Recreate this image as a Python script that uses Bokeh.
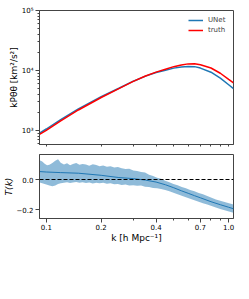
from bokeh.plotting import figure
from bokeh.models import FixedTicker, Range1d, Legend, LegendItem, Span
from bokeh.layouts import column
from bokeh.embed import file_html
from bokeh.resources import INLINE

# ---- data ----
k = [0.0918, 0.1, 0.12, 0.15, 0.2, 0.25, 0.3, 0.35, 0.4, 0.45, 0.5, 0.55,
     0.6, 0.65, 0.7, 0.8, 0.9, 1.0, 1.063]
truth = [860, 1010, 1450, 2200, 3550, 5000, 6600, 8100, 9400, 10500, 11600,
         12400, 12900, 13000, 12500, 11000, 9000, 7100, 6200]
unet = [906, 1060, 1520, 2290, 3650, 5070, 6640, 8070, 9240, 10130, 10960,
        11470, 11710, 11600, 10980, 9370, 7490, 5790, 4990]
t_mean = [0.053, 0.050, 0.046, 0.042, 0.028, 0.013, 0.006, -0.004, -0.017,
          -0.035, -0.055, -0.075, -0.092, -0.108, -0.122, -0.148, -0.168,
          -0.185, -0.195]

k_band = [0.092, 0.095, 0.098, 0.101, 0.104, 0.108, 0.112, 0.116, 0.120, 0.125,
          0.130, 0.135, 0.140, 0.146, 0.152, 0.158, 0.165, 0.172, 0.180, 0.188,
          0.196, 0.205, 0.215, 0.225, 0.236, 0.247, 0.259, 0.272, 0.285, 0.300,
          0.315, 0.331, 0.348, 0.366, 0.385, 0.405, 0.426, 0.449, 0.473, 0.498,
          0.525, 0.553, 0.583, 0.615, 0.649, 0.685, 0.723, 0.763, 0.806, 0.851,
          0.899, 0.950, 1.004, 1.063]
t_upper = [0.128, 0.120, 0.105, 0.095, 0.098, 0.110, 0.125, 0.135, 0.112, 0.100,
           0.108, 0.095, 0.103, 0.110, 0.098, 0.104, 0.100, 0.092, 0.101, 0.096,
           0.088, 0.094, 0.085, 0.089, 0.080, 0.084, 0.075, 0.070, 0.072, 0.060,
           0.056, 0.050, 0.046, 0.032, 0.024, 0.012, 0.005, -0.008, -0.018, -0.030,
           -0.038, -0.050, -0.058, -0.070, -0.078, -0.090, -0.099, -0.110, -0.121,
           -0.133, -0.141, -0.150, -0.158, -0.166]
t_lower = [-0.020, -0.025, -0.030, -0.035, -0.040, -0.045, -0.040, -0.030, -0.025,
           -0.022, -0.018, -0.024, -0.020, -0.016, -0.022, -0.018, -0.024, -0.020,
           -0.026, -0.022, -0.025, -0.021, -0.028, -0.025, -0.032, -0.030, -0.036,
           -0.033, -0.040, -0.038, -0.042, -0.040, -0.048, -0.050, -0.056, -0.058,
           -0.064, -0.070, -0.078, -0.088, -0.098, -0.108, -0.118, -0.128, -0.138,
           -0.148, -0.158, -0.166, -0.176, -0.186, -0.196, -0.205, -0.214, -0.222]

x_ticks_labeled = [0.1, 0.2, 0.4, 0.7, 1.0]
x_minor = [0.2, 0.3, 0.4, 0.5, 0.6, 0.7, 0.8, 0.9]
x_all = [0.1, 0.2, 0.3, 0.4, 0.5, 0.6, 0.7, 0.8, 0.9, 1.0]

FONT = "DejaVu Sans"
BLUE = "#1f77b4"
FRAME = "#444444"


def style_axes(p):
    for ax in p.axis:
        ax.axis_line_color = FRAME
        ax.major_tick_line_color = FRAME
        ax.minor_tick_line_color = FRAME
        ax.major_tick_out = 4
        ax.major_tick_in = 0
        ax.minor_tick_out = 2
        ax.minor_tick_in = 0
        ax.major_label_text_font = FONT
        ax.major_label_text_font_size = "7px"
        ax.major_label_text_color = "black"
        ax.axis_label_text_font = FONT
        ax.axis_label_text_font_size = "9px"
        ax.axis_label_text_font_style = "normal"
        ax.axis_label_text_color = "black"
    p.xgrid.visible = False
    p.ygrid.visible = False
    p.outline_line_color = FRAME
    p.outline_line_width = 1


x_range = Range1d(0.0918, 1.063)

p1 = figure(width=235, height=150, x_axis_type="log", y_axis_type="log",
            x_range=x_range, y_range=Range1d(585, 1e5),
            output_backend="svg", toolbar_location=None,
            min_border_left=33, min_border_right=2, min_border_top=10,
            min_border_bottom=6)
r_unet = p1.line(k, unet, line_color=BLUE, line_width=1.5)
r_truth = p1.line(k, truth, line_color="red", line_width=1.5)
style_axes(p1)
p1.xaxis.ticker = FixedTicker(ticks=[], minor_ticks=x_all)
p1.xaxis.major_label_standoff = 0
p1.yaxis.ticker = FixedTicker(ticks=[1e3, 1e4, 1e5],
                              minor_ticks=[a * b for b in (100, 1000, 10000)
                                           for a in range(2, 10)])
p1.yaxis.major_label_overrides = {1000: "10³", 10000: "10⁴", 100000: "10⁵"}
p1.yaxis.axis_label = "kPθθ [km²/s²]"
p1.yaxis.axis_label_standoff = 0
p1.yaxis.major_label_standoff = 2

legend = Legend(items=[LegendItem(label="UNet", renderers=[r_unet]),
                       LegendItem(label="truth", renderers=[r_truth])],
                location="top_right", margin=0, padding=5, spacing=0,
                glyph_width=15, glyph_height=10, label_height=10,
                label_standoff=5, label_text_font=FONT,
                label_text_font_size="7px", border_line_alpha=0,
                background_fill_alpha=0)
p1.add_layout(legend)

p2 = figure(width=235, height=99, x_axis_type="log",
            x_range=x_range, y_range=Range1d(-0.26, 0.1667),
            output_backend="svg", toolbar_location=None,
            min_border_left=33, min_border_right=2, min_border_top=4,
            min_border_bottom=31)
p2.varea(x=k_band, y1=t_lower, y2=t_upper, fill_color=BLUE, fill_alpha=0.5)
p2.line(k, t_mean, line_color=BLUE, line_width=1)
p2.add_layout(Span(location=0, dimension="width", line_color="black",
                   line_width=1.2, line_dash="4 2"))
style_axes(p2)
p2.xaxis.ticker = FixedTicker(ticks=x_ticks_labeled, minor_ticks=x_minor)
p2.xaxis.major_label_overrides = {0.1: "0.1", 0.2: "0.2", 0.4: "0.4",
                                  0.7: "0.7", 1.0: "1.0"}
p2.xaxis.axis_label = "k [h Mpc⁻¹]"
p2.xaxis.major_label_standoff = 1
p2.xaxis.axis_label_standoff = 0
p2.yaxis.ticker = FixedTicker(ticks=[-0.2, 0.0], minor_ticks=[])
p2.yaxis.major_label_overrides = {-0.2: "−0.2", 0: "0.0"}
p2.yaxis.axis_label = "T(k)"
p2.yaxis.axis_label_text_font_style = "italic"
p2.yaxis.axis_label_standoff = 0
p2.yaxis.major_label_standoff = 2

layout = column(p1, p2, spacing=0)
open("out.html", "w").write(file_html(layout, INLINE))
